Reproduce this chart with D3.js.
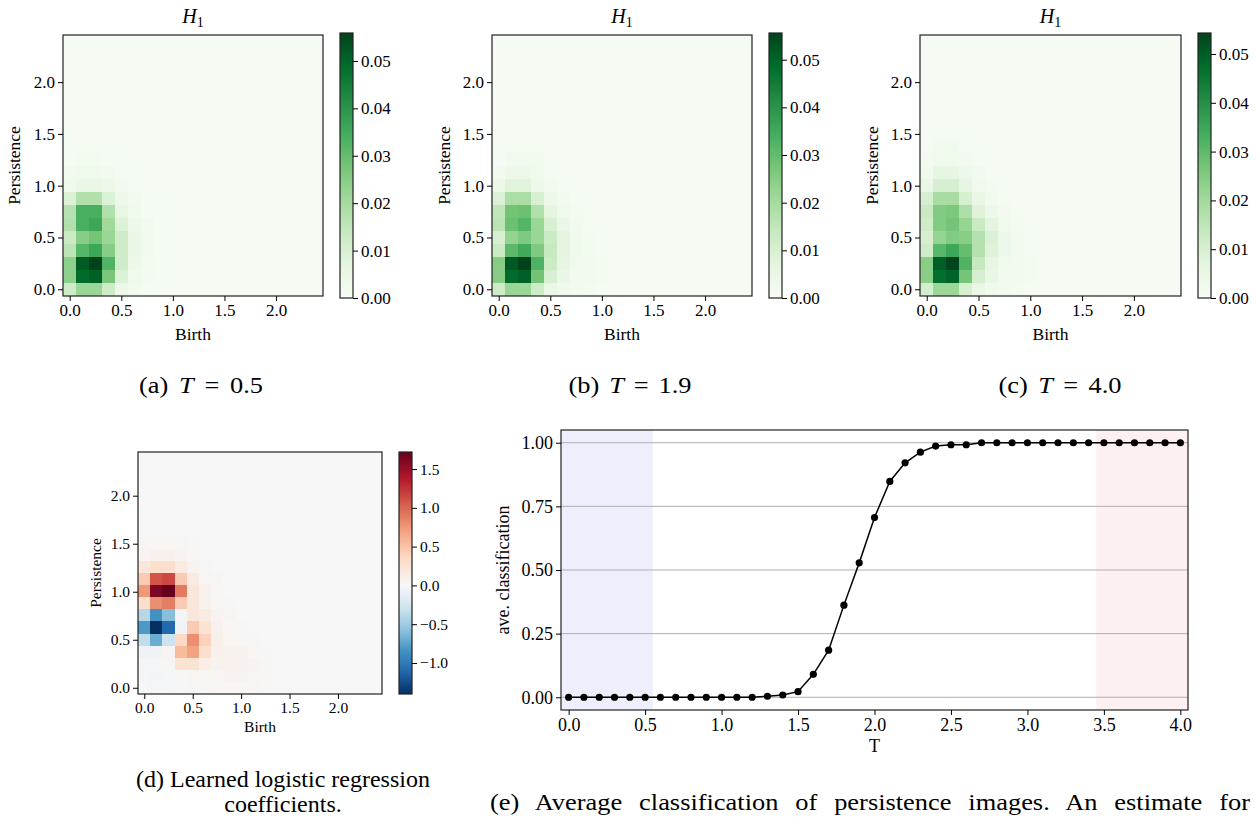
<!DOCTYPE html>
<html><head><meta charset="utf-8">
<script src="https://cdn.jsdelivr.net/npm/d3@7"></script>
<style>
body{margin:0;background:#fff;}
svg text{font-family:"Liberation Serif","Times New Roman",serif;fill:#000;}
</style></head><body>
<script>
// ---------------- DATA ----------------
const imgExtent = [-0.065, 2.455];   // birth / persistence extent of the 20x20 image
const gridSize = 20;
const pixTicks = [0, 0.5, 1.0, 1.5, 2.0];

// persistence images (row 0 = lowest persistence, col 0 = lowest birth); unlisted cells = background
const piBackground = 0.0008;
const piT05 = [
  [0.012,0.022,0.022,0.012,0.004,0.002,0.001,0.001],
  [0.024,0.049,0.051,0.027,0.009,0.003,0.0015,0.001],
  [0.024,0.052,0.056,0.033,0.012,0.004,0.0015,0.001],
  [0.016,0.032,0.036,0.025,0.012,0.005,0.002,0.001],
  [0.013,0.025,0.028,0.022,0.012,0.005,0.002,0.001],
  [0.018,0.034,0.036,0.021,0.009,0.004,0.002,0.001],
  [0.017,0.034,0.034,0.018,0.006,0.003,0.001,0.001],
  [0.009,0.018,0.018,0.009,0.004,0.002,0.001,0.001],
  [0.003,0.005,0.005,0.004,0.002,0.001,0.001],
  [0.002,0.003,0.003,0.002,0.001,0.001],
  [0.001,0.0015,0.0015,0.001,0.001]
];
const piT19 = [
  [0.012,0.022,0.022,0.012,0.005,0.003,0.002,0.0015,0.001],
  [0.025,0.049,0.051,0.028,0.010,0.005,0.002,0.002,0.0015],
  [0.025,0.052,0.056,0.033,0.013,0.006,0.003,0.002,0.0015],
  [0.013,0.031,0.035,0.026,0.014,0.007,0.003,0.0015,0.001],
  [0.010,0.023,0.026,0.022,0.013,0.007,0.003,0.0015,0.001],
  [0.016,0.029,0.032,0.022,0.010,0.005,0.002,0.001],
  [0.015,0.028,0.029,0.018,0.007,0.003,0.0015,0.001],
  [0.009,0.019,0.019,0.010,0.004,0.002,0.001],
  [0.004,0.008,0.008,0.004,0.002,0.001],
  [0.002,0.004,0.004,0.003,0.001,0.001],
  [0.001,0.002,0.002,0.002,0.001],
  [0.001,0.001,0.001,0.001]
];
const piT40 = [
  [0.011,0.021,0.021,0.010,0.005,0.003,0.002,0.0015,0.001],
  [0.024,0.047,0.049,0.027,0.010,0.005,0.002,0.002,0.0015],
  [0.024,0.050,0.054,0.032,0.014,0.006,0.003,0.002,0.0015],
  [0.012,0.031,0.035,0.029,0.017,0.008,0.004,0.002,0.001],
  [0.010,0.022,0.025,0.024,0.017,0.009,0.004,0.002,0.001],
  [0.012,0.025,0.027,0.022,0.013,0.007,0.003,0.0015,0.001],
  [0.013,0.025,0.026,0.018,0.008,0.004,0.002,0.001],
  [0.010,0.019,0.019,0.010,0.005,0.002,0.001],
  [0.005,0.010,0.010,0.006,0.003,0.0015,0.001],
  [0.003,0.006,0.006,0.004,0.002,0.001],
  [0.002,0.003,0.003,0.002,0.001],
  [0.001,0.002,0.002,0.001,0.001],
  [0.001,0.001,0.001,0.001]
];
const greensMax = [0.0559, 0.0556, 0.0543];
const greensTicks = [0, 0.01, 0.02, 0.03, 0.04, 0.05];

// learned logistic regression coefficients
const coefBackground = 0;
const coefDomain = [-1.40, 0, 1.72];
const coefTicks = [-1.0, -0.5, 0, 0.5, 1.0, 1.5];
const coefs = [
  [-0.02,-0.03,-0.03,0.01,0.02,0.02,0.03,0.03,0.03,0.02,0.01],
  [-0.03,-0.04,-0.03,0.03,0.04,0.04,0.04,0.05,0.05,0.04,0.02],
  [-0.03,-0.03,0.04,0.25,0.25,0.12,0.06,0.07,0.07,0.05,0.02],
  [-0.06,-0.06,0.05,0.55,0.70,0.30,0.08,0.06,0.06,0.03,0.01],
  [-0.35,-0.70,-0.30,0.35,0.80,0.40,0.10,0.04,0.02,0.01],
  [-0.80,-1.40,-1.10,-0.05,0.45,0.25,0.08,0.03,0.01],
  [-0.40,-0.85,-0.60,-0.04,0.20,0.15,0.05,0.02],
  [0.30,0.80,0.88,0.45,0.20,0.06,0.03,0.01],
  [0.75,1.62,1.72,0.90,0.20,0.07,0.03],
  [0.45,1.08,1.14,0.45,0.15,0.04,0.02],
  [0.20,0.30,0.30,0.15,0.05,0.02],
  [0.05,0.08,0.08,0.05,0.03],
  [0.02,0.03,0.03,0.02,0.01]
];

// average classification vs temperature
const temps = [0.0,0.1,0.2,0.3,0.4,0.5,0.6,0.7,0.8,0.9,1.0,1.1,1.2,1.3,1.4,1.5,1.6,1.7,1.8,1.9,2.0,
               2.1,2.2,2.3,2.4,2.5,2.6,2.7,2.8,2.9,3.0,3.1,3.2,3.3,3.4,3.5,3.6,3.7,3.8,3.9,4.0];
const aveClass = [0,0,0,0,0,0,0,0,0,0,0,0,0,0.004,0.009,0.022,0.090,0.185,0.362,0.528,0.706,
                  0.848,0.921,0.963,0.987,0.992,0.992,1,1,1,1,1,1,1,1,1,1,1,1,1,1];
const tTicks = [0.0,0.5,1.0,1.5,2.0,2.5,3.0,3.5,4.0];
const classTicks = [0,0.25,0.50,0.75,1.00];
const tDomain = [-0.05, 4.05];
const classDomain = [-0.05, 1.05];
const lowSpan = [-0.05, 0.55];
const highSpan = [3.45, 4.05];

// colormap definitions (matplotlib Greens / RdBu_r)
const greensColors = ["#f7fcf5","#e5f5e0","#c7e9c0","#a1d99b","#74c476","#41ab5d","#238b45","#006d2c","#00441b"];
const rdbuRColors = ["#053061","#2166ac","#4393c3","#92c5de","#d1e5f0","#f7f7f7","#fddbc7","#f4a582","#d6604d","#b2182b","#67001f"];

// ---------------- DRAW ----------------
const FONT = '"Liberation Serif","Times New Roman",serif';
const svg = d3.select("body").append("svg").attr("width",1258).attr("height",820);
const defs = svg.append("defs");
const greensInterp = d3.piecewise(d3.interpolateRgb, greensColors);
const rdbuRInterp = d3.piecewise(d3.interpolateRgb, rdbuRColors);

function styleAxis(g, size){
  g.attr("font-family", FONT).attr("font-size", size);
  g.select(".domain").remove();
  g.selectAll(".tick line").attr("stroke","#000").attr("stroke-width",1);
  g.selectAll(".tick text").attr("fill","#000");
}

function heatmap(box, grid, background, color, fs, labelFs){
  const g = svg.append("g");
  const x = d3.scaleLinear().domain(imgExtent).range([box.x0, box.x1]);
  const y = d3.scaleLinear().domain(imgExtent).range([box.y1, box.y0]);
  const edges = d3.range(gridSize+1).map(i => imgExtent[0] + i*(imgExtent[1]-imgExtent[0])/gridSize);
  const cells = [];
  for (let r=0;r<gridSize;r++) for (let c=0;c<gridSize;c++){
    const v = (grid[r] && grid[r][c] != null) ? grid[r][c] : background;
    cells.push({r,c,v});
  }
  g.selectAll("rect.cell").data(cells).join("rect")
    .attr("x", d => Math.round(x(edges[d.c])))
    .attr("width", d => Math.round(x(edges[d.c+1])) - Math.round(x(edges[d.c])))
    .attr("y", d => Math.round(y(edges[d.r+1])))
    .attr("height", d => Math.round(y(edges[d.r])) - Math.round(y(edges[d.r+1])))
    .attr("fill", d => color(d.v))
    .attr("shape-rendering","crispEdges");
  g.append("rect").attr("x",box.x0).attr("y",box.y0).attr("width",box.x1-box.x0).attr("height",box.y1-box.y0)
    .attr("fill","none").attr("stroke","#222").attr("stroke-width",1.2);
  const ax = g.append("g").attr("transform",`translate(0,${box.y1})`)
    .call(d3.axisBottom(x).tickValues(pixTicks).tickFormat(d3.format(".1f")).tickSize(5).tickPadding(3));
  styleAxis(ax, fs);
  const ay = g.append("g").attr("transform",`translate(${box.x0},0)`)
    .call(d3.axisLeft(y).tickValues(pixTicks).tickFormat(d3.format(".1f")).tickSize(5).tickPadding(3));
  styleAxis(ay, fs);
  g.append("text").attr("x",(box.x0+box.x1)/2).attr("y",box.y1+box.xlab).attr("text-anchor","middle")
    .attr("font-size",labelFs).text("Birth");
  g.append("text").attr("transform",`translate(${box.ylabX},${(box.y0+box.y1)/2}) rotate(-90)`)
    .attr("text-anchor","middle").attr("font-size",labelFs).text("Persistence");
  if (box.title){
    const t = g.append("text").attr("x",(box.x0+box.x1)/2).attr("y",box.y0-12).attr("text-anchor","middle")
      .attr("font-size",20);
    t.append("tspan").attr("font-style","italic").text("H");
    t.append("tspan").attr("font-size",14).attr("dy",4).text("1");
  }
}

let gradId = 0;
function colorbar(cb, domain, color, ticks, fmt, fs){
  const id = "grad"+(gradId++);
  const lg = defs.append("linearGradient").attr("id",id).attr("x1",0).attr("y1",1).attr("x2",0).attr("y2",0);
  const n = 80;
  d3.range(n+1).forEach(i => {
    const v = domain[0] + (domain[1]-domain[0])*i/n;
    lg.append("stop").attr("offset", i/n).attr("stop-color", color(v));
  });
  const s = d3.scaleLinear().domain(domain).range([cb.y1, cb.y0]);
  svg.append("rect").attr("x",cb.x0).attr("y",cb.y0).attr("width",cb.x1-cb.x0).attr("height",cb.y1-cb.y0)
    .attr("fill",`url(#${id})`).attr("stroke","#222").attr("stroke-width",1.2);
  const a = svg.append("g").attr("transform",`translate(${cb.x1},0)`)
    .call(d3.axisRight(s).tickValues(ticks).tickFormat(fmt).tickSize(5).tickPadding(3));
  styleAxis(a, fs);
}

// top row panels
const topPanels = [
  {box:{x0:63,x1:323,y0:35,y1:296,xlab:44,ylabX:20,title:true}, cb:{x0:340,x1:353,y0:33,y1:298}, data:piT05},
  {box:{x0:492,x1:752,y0:35,y1:296,xlab:44,ylabX:450,title:true}, cb:{x0:769,x1:782,y0:33,y1:298}, data:piT19},
  {box:{x0:920,x1:1181,y0:35,y1:296,xlab:44,ylabX:878,title:true}, cb:{x0:1198,x1:1211,y0:33,y1:298}, data:piT40}
];
topPanels.forEach((p,i) => {
  const col = d3.scaleSequential(greensInterp).domain([0, greensMax[i]]);
  heatmap(p.box, p.data, piBackground, col, 17, 17.5);
  colorbar(p.cb, [0, greensMax[i]], col, greensTicks, d3.format(".2f"), 17);
});

// coefficient panel
const coefColor = d3.scaleDiverging(rdbuRInterp).domain(coefDomain);
heatmap({x0:138,x1:382,y0:452,y1:694,xlab:38,ylabX:101,title:false}, coefs, coefBackground, coefColor, 15.5, 15.5);
colorbar({x0:399,x1:412,y0:452,y1:694}, [coefDomain[0], coefDomain[2]], coefColor, coefTicks, d3.format(".1f"), 15.5);

// classification panel
{
  const box = {x0:561,x1:1188,y0:430,y1:710};
  const x = d3.scaleLinear().domain(tDomain).range([box.x0, box.x1]);
  const y = d3.scaleLinear().domain(classDomain).range([box.y1, box.y0]);
  const g = svg.append("g");
  g.append("rect").attr("x",x(lowSpan[0])).attr("width",x(lowSpan[1])-x(lowSpan[0]))
    .attr("y",box.y0).attr("height",box.y1-box.y0).attr("fill","#eeeefc");
  g.append("rect").attr("x",x(highSpan[0])).attr("width",x(highSpan[1])-x(highSpan[0]))
    .attr("y",box.y0).attr("height",box.y1-box.y0).attr("fill","#fdf0f0");
  g.selectAll("line.grid").data(classTicks).join("line")
    .attr("x1",box.x0).attr("x2",box.x1).attr("y1",d=>y(d)).attr("y2",d=>y(d))
    .attr("stroke","#b0b0b0").attr("stroke-width",1);
  const pts = temps.map((t,i)=>[t, aveClass[i]]);
  g.append("path").datum(pts).attr("d", d3.line().x(d=>x(d[0])).y(d=>y(d[1])))
    .attr("fill","none").attr("stroke","#000").attr("stroke-width",1.5);
  g.selectAll("circle").data(pts).join("circle").attr("cx",d=>x(d[0])).attr("cy",d=>y(d[1]))
    .attr("r",3.6).attr("fill","#000");
  g.append("rect").attr("x",box.x0).attr("y",box.y0).attr("width",box.x1-box.x0).attr("height",box.y1-box.y0)
    .attr("fill","none").attr("stroke","#222").attr("stroke-width",1.2);
  const ax = g.append("g").attr("transform",`translate(0,${box.y1})`)
    .call(d3.axisBottom(x).tickValues(tTicks).tickFormat(d3.format(".1f")).tickSize(5).tickPadding(3));
  styleAxis(ax, 18);
  const ay = g.append("g").attr("transform",`translate(${box.x0},0)`)
    .call(d3.axisLeft(y).tickValues(classTicks).tickFormat(d3.format(".2f")).tickSize(5).tickPadding(3));
  styleAxis(ay, 18);
  g.append("text").attr("x",(box.x0+box.x1)/2).attr("y",752).attr("text-anchor","middle").attr("font-size",18).text("T");
  g.append("text").attr("transform",`translate(509,${(box.y0+box.y1)/2}) rotate(-90)`)
    .attr("text-anchor","middle").attr("font-size",18).text("ave. classification");
}

// captions: LaTeX-like wide glyphs (x1.1) plus justified inter-word space
function fitLine(t, target, stretch){
  const len = t.node().getComputedTextLength();
  const spaces = (t.text().match(/ /g) || []).length;
  const ws = Math.max(0, (target / stretch - len) / Math.max(spaces,1));
  t.attr("word-spacing", ws);
  t.attr("textLength", target).attr("lengthAdjust", "spacingAndGlyphs");
}
function caption(x, y, label, val, target){
  const t = svg.append("text").attr("x",x).attr("y",y).attr("text-anchor","middle").attr("font-size",24);
  t.append("tspan").text(label + " ");
  t.append("tspan").attr("font-style","italic").text("T");
  t.append("tspan").text(" = " + val);
  fitLine(t, target, 1.1);
}
caption(201, 393, "(a)", "0.5", 124);
caption(630, 393, "(b)", "1.9", 123);
caption(1060, 393, "(c)", "4.0", 123);
svg.append("text").attr("x",283).attr("y",787).attr("text-anchor","middle").attr("font-size",24).text("(d) Learned logistic regression");
svg.append("text").attr("x",283).attr("y",812).attr("text-anchor","middle").attr("font-size",24).text("coefficients.");
const e1 = svg.append("text").attr("x",870).attr("y",810).attr("text-anchor","middle").attr("font-size",24).text("(e) Average classification of persistence images. An estimate for");
fitLine(e1, 760, 1.1);
</script>
</body></html>
